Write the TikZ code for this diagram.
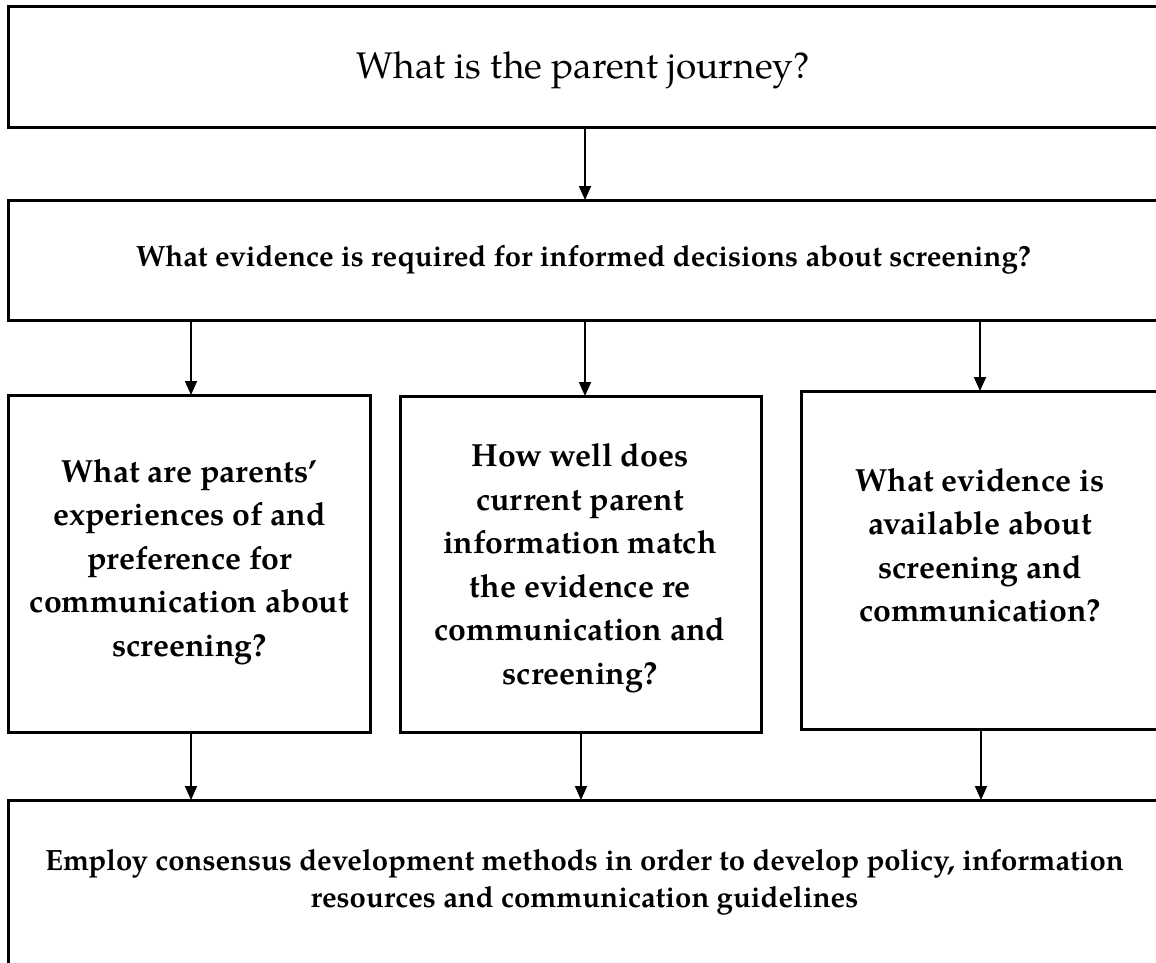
\documentclass[tikz,border=0pt]{standalone}
\usepackage{fontspec}
\setmainfont{TeX Gyre Pagella}
\usetikzlibrary{arrows.meta}
\begin{document}
\begin{tikzpicture}[x=1pt,y=-1pt,
  box/.style={draw=black, line width=3pt, rectangle, inner sep=0pt, outer sep=0pt},
  lbl/.style={align=center, inner sep=0pt, outer sep=0pt, text=black, anchor=base},
  qtext/.style={lbl, font=\bfseries\fontsize{32}{43.5}\selectfont},
  wide/.style={lbl, font=\bfseries\fontsize{29.3}{37.5}\selectfont},
  arr/.style={draw=black, line width=1.8pt, -{Triangle[length=14pt,width=12pt]}}]
\useasboundingbox (0,0) rectangle (1156,963);
\fill[white] (0,0) rectangle (1156,963);
\clip (0,0) rectangle (1156,963);

% boxes
\node[box, minimum width=1154pt, minimum height=121pt] (top) at (585,67.5) {};
\node[box, minimum width=1154pt, minimum height=120pt] (ev) at (585,260) {};
\node[box, minimum width=362pt, minimum height=337pt] (pa) at (189,563.5) {};
\node[box, minimum width=361pt, minimum height=336pt] (info) at (580.5,564) {};
\node[box, minimum width=369pt, minimum height=338pt] (av) at (985.5,560) {};
\node[box, minimum width=1162pt, minimum height=200pt] (cons) at (589,900) {};

% texts (base anchor = baseline of the last line)
\node[lbl, font=\fontsize{37}{44}\selectfont] (ttop) at (583,79) {What is the parent journey?};
\node[wide] (tev) at (583.5,266.7) {What evidence is required for informed decisions about screening?};
\node[qtext] (tpa) at (189.5,656) {What are parents’\\experiences of and\\preference for\\communication about\\screening?};
\node[qtext] (tinfo) at (580,684) {How well does\\current parent\\information match\\the evidence re\\communication and\\screening?};
\node[qtext] (tav) at (980,621.7) {What evidence is\\available about\\screening and\\communication?};
\node[wide] (tcons) at (584.5,907.7) {Employ consensus development methods in order to develop policy, information\\resources and communication guidelines};

% connectors
\coordinate (e1) at (191,0);
\coordinate (e2) at (585,0);
\coordinate (e3) at (980,0);
\coordinate (d1) at (191,0);
\coordinate (d2) at (581,0);
\coordinate (d3) at (981,0);
\draw[arr] (top.south -| e2) -- (ev.north -| e2);
\draw[arr] (ev.south -| e1) -- (pa.north -| e1);
\draw[arr] (ev.south -| e2) -- (info.north -| e2);
\draw[arr] (ev.south -| e3) -- (av.north -| e3);
\draw[arr] (pa.south -| d1) -- (cons.north -| d1);
\draw[arr] (info.south -| d2) -- (cons.north -| d2);
\draw[arr] (av.south -| d3) -- (cons.north -| d3);
\end{tikzpicture}
\end{document}
